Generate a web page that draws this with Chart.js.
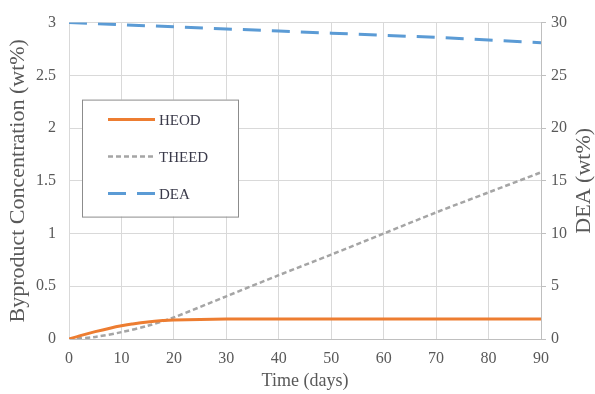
<!DOCTYPE html>
<html lang="en">
  <head>
    <meta charset="UTF-8" />
    <title>Byproduct Concentration vs Time</title>
    <script src="https://cdn.jsdelivr.net/npm/chart.js"></script>
    <style>
      body {
        margin: 0;
        background-color: #ffffff;
      }
      #wrap {
        width: 595px;
        height: 394px;
      }
    </style>
  </head>
  <body>
    <div id="wrap"><canvas id="grafico" width="595" height="394"></canvas></div>

    <script>
      const diasHeod = [0, 2, 5, 8, 10, 12, 15, 18, 20, 25, 30, 40, 50, 60, 70, 80, 90];
      const heod = [0, 0.03, 0.07, 0.105, 0.125, 0.142, 0.162, 0.175, 0.18, 0.186, 0.189, 0.19, 0.19, 0.19, 0.19, 0.19, 0.19];

      const diasTheed = [0, 5, 10, 15, 20, 30, 40, 50, 60, 70, 80, 90];
      const theed = [0, 0.02, 0.065, 0.125, 0.205, 0.405, 0.605, 0.8, 1.0, 1.2, 1.39, 1.58];

      const diasDea = [0, 10, 20, 30, 40, 50, 60, 70, 80, 90];
      const dea = [30, 29.8, 29.6, 29.4, 29.2, 29.0, 28.8, 28.6, 28.35, 28.1];

      const ticksTempo = [0, 10, 20, 30, 40, 50, 60, 70, 80, 90];

      const fonte = "'Liberation Serif', 'Times New Roman', serif";
      const corTexto = "#595959";

      function pontos(xs, ys) {
        return xs.map((x, i) => ({ x: x, y: ys[i] }));
      }

      // legenda em caixa dentro da area do grafico + titulo do eixo direito
      const extras = {
        id: "extras",
        afterDatasetsDraw(chart) {
          const c = chart.ctx;
          const area = chart.chartArea;
          const x0 = area.left + 13;
          const y0 = area.top + 77;
          c.save();
          c.fillStyle = "#ffffff";
          c.fillRect(x0, y0, 156, 117);
          c.strokeStyle = "#8c8c8c";
          c.lineWidth = 1;
          c.strokeRect(x0 + 0.5, y0 + 0.5, 156, 117);
          c.font = "15px " + fonte;
          c.textBaseline = "middle";
          chart.data.datasets.forEach((ds, i) => {
            const y = y0 + 20 + i * 37;
            c.strokeStyle = ds.borderColor;
            c.lineWidth = ds.borderWidth;
            c.setLineDash(ds.borderDash || []);
            c.beginPath();
            c.moveTo(x0 + 26, y);
            c.lineTo(x0 + 73, y);
            c.stroke();
            c.setLineDash([]);
            c.fillStyle = "#3a3a4a";
            c.fillText(ds.label, x0 + 77, y + 1);
          });
          c.restore();
        },
        afterDraw(chart) {
          const c = chart.ctx;
          const area = chart.chartArea;
          c.save();
          c.font = "22px " + fonte;
          c.fillStyle = corTexto;
          c.textAlign = "center";
          c.textBaseline = "middle";
          c.translate(584, (area.top + area.bottom) / 2);
          c.rotate(-Math.PI / 2);
          c.fillText("DEA (wt%)", 0, 0);
          c.restore();
        },
      };

      new Chart(document.getElementById("grafico"), {
        type: "line",
        data: {
          datasets: [
            {
              label: "HEOD",
              data: pontos(diasHeod, heod),
              borderColor: "#ED7D31",
              borderWidth: 3,
              pointRadius: 0,
              tension: 0.4,
              yAxisID: "y",
            },
            {
              label: "THEED",
              data: pontos(diasTheed, theed),
              borderColor: "#A5A5A5",
              borderWidth: 2.5,
              borderDash: [5, 3],
              pointRadius: 0,
              tension: 0.3,
              yAxisID: "y",
            },
            {
              label: "DEA",
              data: pontos(diasDea, dea),
              borderColor: "#5B9BD5",
              borderWidth: 3,
              borderDash: [18, 11],
              pointRadius: 0,
              tension: 0,
              yAxisID: "y2",
            },
          ],
        },
        options: {
          responsive: false,
          animation: false,
          layout: { padding: { top: 22, left: 0, right: 0, bottom: 0 } },
          plugins: {
            legend: { display: false },
            tooltip: { enabled: false },
          },
          scales: {
            x: {
              type: "linear",
              min: 0,
              max: 90,
              afterBuildTicks: (s) => {
                s.ticks = ticksTempo.map((v) => ({ value: v }));
              },
              afterFit: (s) => {
                s.height = 55;
              },
              grid: { color: "#d9d9d9", drawTicks: false },
              border: { color: "#bfbfbf" },
              ticks: { color: corTexto, font: { family: fonte, size: 16 }, padding: 10 },
              title: {
                display: true,
                text: "Time (days)",
                color: corTexto,
                font: { family: fonte, size: 18 },
                padding: { top: 0, bottom: 2 },
              },
            },
            y: {
              position: "left",
              min: 0,
              max: 3,
              afterFit: (s) => {
                s.width = 69;
              },
              grid: { color: "#d9d9d9", drawTicks: false },
              border: { color: "#d9d9d9" },
              ticks: {
                stepSize: 0.5,
                color: corTexto,
                font: { family: fonte, size: 16 },
                padding: 13,
                callback: (v) => String(v),
              },
              title: {
                display: true,
                text: "Byproduct Concentration (wt%)",
                color: corTexto,
                font: { family: fonte, size: 22 },
                padding: { top: 5, bottom: 0 },
              },
            },
            y2: {
              position: "right",
              min: 0,
              max: 30,
              afterFit: (s) => {
                s.width = 54;
              },
              grid: { drawOnChartArea: false, color: "#bfbfbf", tickLength: 5 },
              border: { color: "#bfbfbf" },
              ticks: { stepSize: 5, color: corTexto, font: { family: fonte, size: 16 }, padding: 5 },
            },
          },
        },
        plugins: [extras],
      });
    </script>
  </body>
</html>
